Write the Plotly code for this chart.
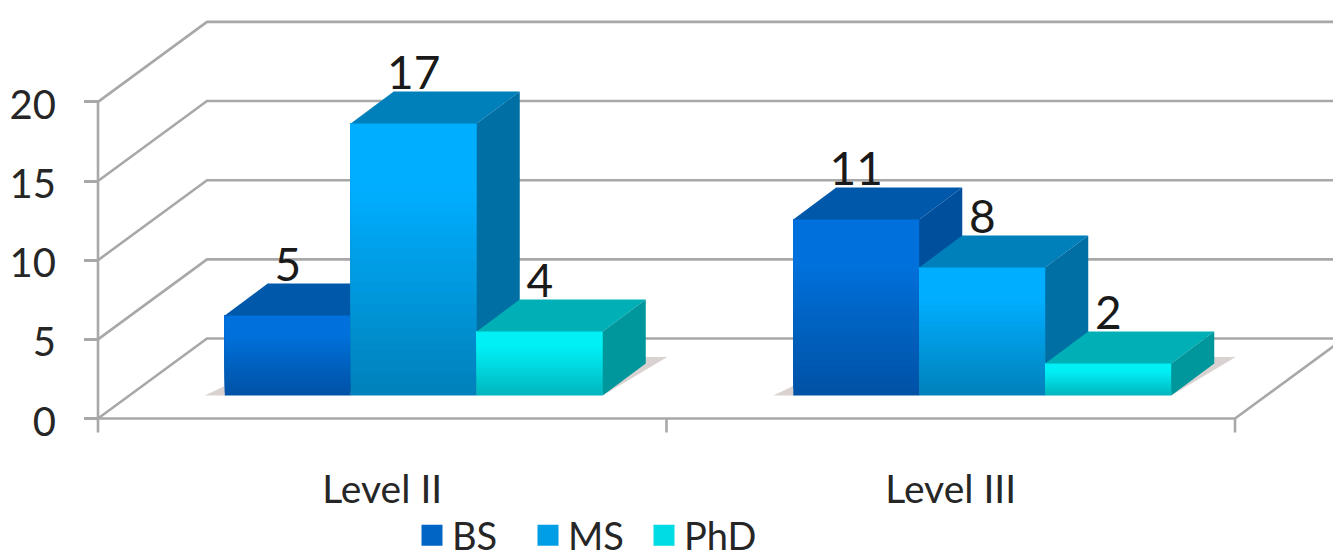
import plotly.graph_objects as go

categories = ["Level II", "Level III"]
series_names = ["BS", "MS", "PhD"]
bs_values = [5, 11]
ms_values = [17, 8]
phd_values = [4, 2]
y_ticks = [0, 5, 10, 15, 20]

W, H = 1333, 550
FONT = "Lato"
TXT = "#262626"
GRID = "#A8A8A8"

# axis scales (full-figure axes)
XPX = 568.5          # px per category
X0PX = 98 + XPX / 2  # px of category 0
YPX = 15.83          # px per value on the walls
Y0PX = 418.5
BARPX = 16.0         # px per value on the bars
BAR0PX = 395.5

x_range = [-X0PX / XPX, (W - X0PX) / XPX]
y_range = [-(H - Y0PX) / YPX, Y0PX / YPX]
bar_range = [-(H - BAR0PX) / BARPX, BAR0PX / BARPX]

WALL_DX, WALL_DY = 109 / XPX, 80 / YPX
BAR_DX, BAR_DY = 43 / XPX, 32 / BARPX
BAR_SHIFT = 31.5 / XPX
BAR_W = 126 / XPX
TICK_DROP = 14 / YPX

styles = {
    "BS": dict(top="#0071DC", bottom="#0052A6", cap="#0058AA", side="#004F9C", key="#0066C6"),
    "MS": dict(top="#00AEFF", bottom="#0082BC", cap="#0080BA", side="#006FA4", key="#009EE6"),
    "PhD": dict(top="#00F0F6", bottom="#00B6BE", cap="#00B0B6", side="#00979C", key="#00DCE4"),
}
values = {"BS": bs_values, "MS": ms_values, "PhD": phd_values}


def mix(a, b, t):
    pa = [int(a[i:i + 2], 16) for i in (1, 3, 5)]
    pb = [int(b[i:i + 2], 16) for i in (1, 3, 5)]
    return "rgb(%d,%d,%d)" % tuple(round(p + (q - p) * t) for p, q in zip(pa, pb))


fig = go.Figure()


def line(xs, ys, yaxis="y"):
    fig.add_trace(go.Scatter(x=xs, y=ys, yaxis=yaxis, mode="lines", showlegend=False,
                             hoverinfo="skip", line=dict(color=GRID, width=2.6)))


# walls
x_left, x_right = -0.5, 1.5
for v in y_ticks:
    line([x_left, x_left + WALL_DX, x_right + WALL_DX], [v, v + WALL_DY, v + WALL_DY])
line([x_left, x_left], [-TICK_DROP, y_ticks[-1]])
line([x_left, x_right, x_right + WALL_DX], [0, 0, WALL_DY])
for xb in (0.5, 1.5):
    line([xb, xb], [-TICK_DROP, 0])

# soft shadows on the floor
sx, sy = [], []
for i in range(2):
    c = i + BAR_SHIFT
    xr = c + 1.5 * BAR_W
    xl = c - 1.5 * BAR_W
    sx += [xr, xr + BAR_DX * 1.5, xr + BAR_DX, None, xl - 0.035, xl, xl, None]
    sy += [0, BAR_DY * 1.2, BAR_DY * 1.2, None, 0, 0, 0.6, None]
fig.add_trace(go.Scatter(x=sx, y=sy, yaxis="y2", mode="none", fill="toself", showlegend=False,
                         fillcolor="rgba(170,155,150,0.45)", hoverinfo="skip"))

# bars, one overlaid axis per series so that nearer faces paint over farther ones
N = 24
for s, name in enumerate(series_names):
    st = styles[name]
    ya = "y%d" % (s + 3)
    vals = values[name]
    centers = [i + BAR_SHIFT + (s - 1) * BAR_W for i in range(len(categories))]
    bx, by, bb, bc = [], [], [], []
    for c, v in zip(centers, vals):
        for k in range(N):
            t = k / N
            bx.append(c)
            bb.append(v * t)
            by.append(v * (1 - t))
            bc.append(mix(st["bottom"], st["top"], min(1, t * 1.35)))
    fig.add_trace(go.Bar(x=bx, y=by, base=bb, yaxis=ya, width=BAR_W, name=name, showlegend=False,
                         marker=dict(color=bc, line=dict(width=0)), hoverinfo="skip"))
    tx, ty, sx, sy = [], [], [], []
    for c, v in zip(centers, vals):
        a, b = c - BAR_W / 2, c + BAR_W / 2
        tx += [a, b, b + BAR_DX, a + BAR_DX, None]
        ty += [v, v, v + BAR_DY, v + BAR_DY, None]
        sx += [b, b, b + BAR_DX, b + BAR_DX, None]
        sy += [0, v, v + BAR_DY, BAR_DY, None]
    fig.add_trace(go.Scatter(x=tx, y=ty, yaxis=ya, mode="none", fill="toself", showlegend=False,
                             fillcolor=st["cap"], hoverinfo="skip"))
    fig.add_trace(go.Scatter(x=sx, y=sy, yaxis=ya, mode="none", fill="toself", showlegend=False,
                             fillcolor=st["side"], hoverinfo="skip"))
    fig.add_trace(go.Scatter(x=centers, y=[v + BAR_DY - 0.55 for v in vals], yaxis=ya, mode="text",
                             text=[str(v) for v in vals], textposition="top center", showlegend=False,
                             textfont=dict(family=FONT, size=46, color="#1A1A1A"), hoverinfo="skip"))
    # legend key
    fig.add_trace(go.Scatter(x=[None], y=[None], yaxis=ya, mode="markers", name=name,
                             marker=dict(symbol="square", size=16, color=st["key"],
                                         line=dict(color=st["key"], width=5))))

fig.add_trace(go.Scatter(x=[None], y=[None], yaxis="y2", showlegend=False, hoverinfo="skip"))

layout_y = {}
for n in ("yaxis2", "yaxis3", "yaxis4", "yaxis5"):
    layout_y[n] = dict(overlaying="y", range=bar_range, visible=False, domain=[0, 1], fixedrange=True)

fig.update_layout(
    width=W, height=H, autosize=False,
    margin=dict(l=0, r=0, t=0, b=0, autoexpand=False),
    paper_bgcolor="white", plot_bgcolor="white",
    barmode="overlay", showlegend=True,
    xaxis=dict(range=x_range, domain=[0, 1], anchor="free", position=(H - 419) / H,
               tickvals=list(range(len(categories))), ticktext=categories, ticks="",
               showgrid=False, zeroline=False, showline=False, ticklabelstandoff=44,
               tickfont=dict(family=FONT, size=39, color=TXT)),
    yaxis=dict(range=y_range, domain=[0, 1], anchor="free", position=98 / W,
               tickvals=y_ticks, ticks="outside", ticklen=14, tickwidth=2.6, tickcolor=GRID,
               showgrid=False, zeroline=False, showline=False, ticklabelstandoff=20,
               ticklabelshift=3,
               tickfont=dict(family=FONT, size=40, color=TXT)),
    legend=dict(orientation="h", x=412 / W, xanchor="left", y=(H - 504) / H, yanchor="top",
                font=dict(family=FONT, size=38, color=TXT), bgcolor="rgba(0,0,0,0)",
                itemwidth=30, entrywidth=71, entrywidthmode="pixels", tracegroupgap=0),
    **layout_y,
)

fig.write_html("out.html", config={"displayModeBar": False},
               post_script="document.body.style.margin='0';document.documentElement.style.overflow='hidden';")
